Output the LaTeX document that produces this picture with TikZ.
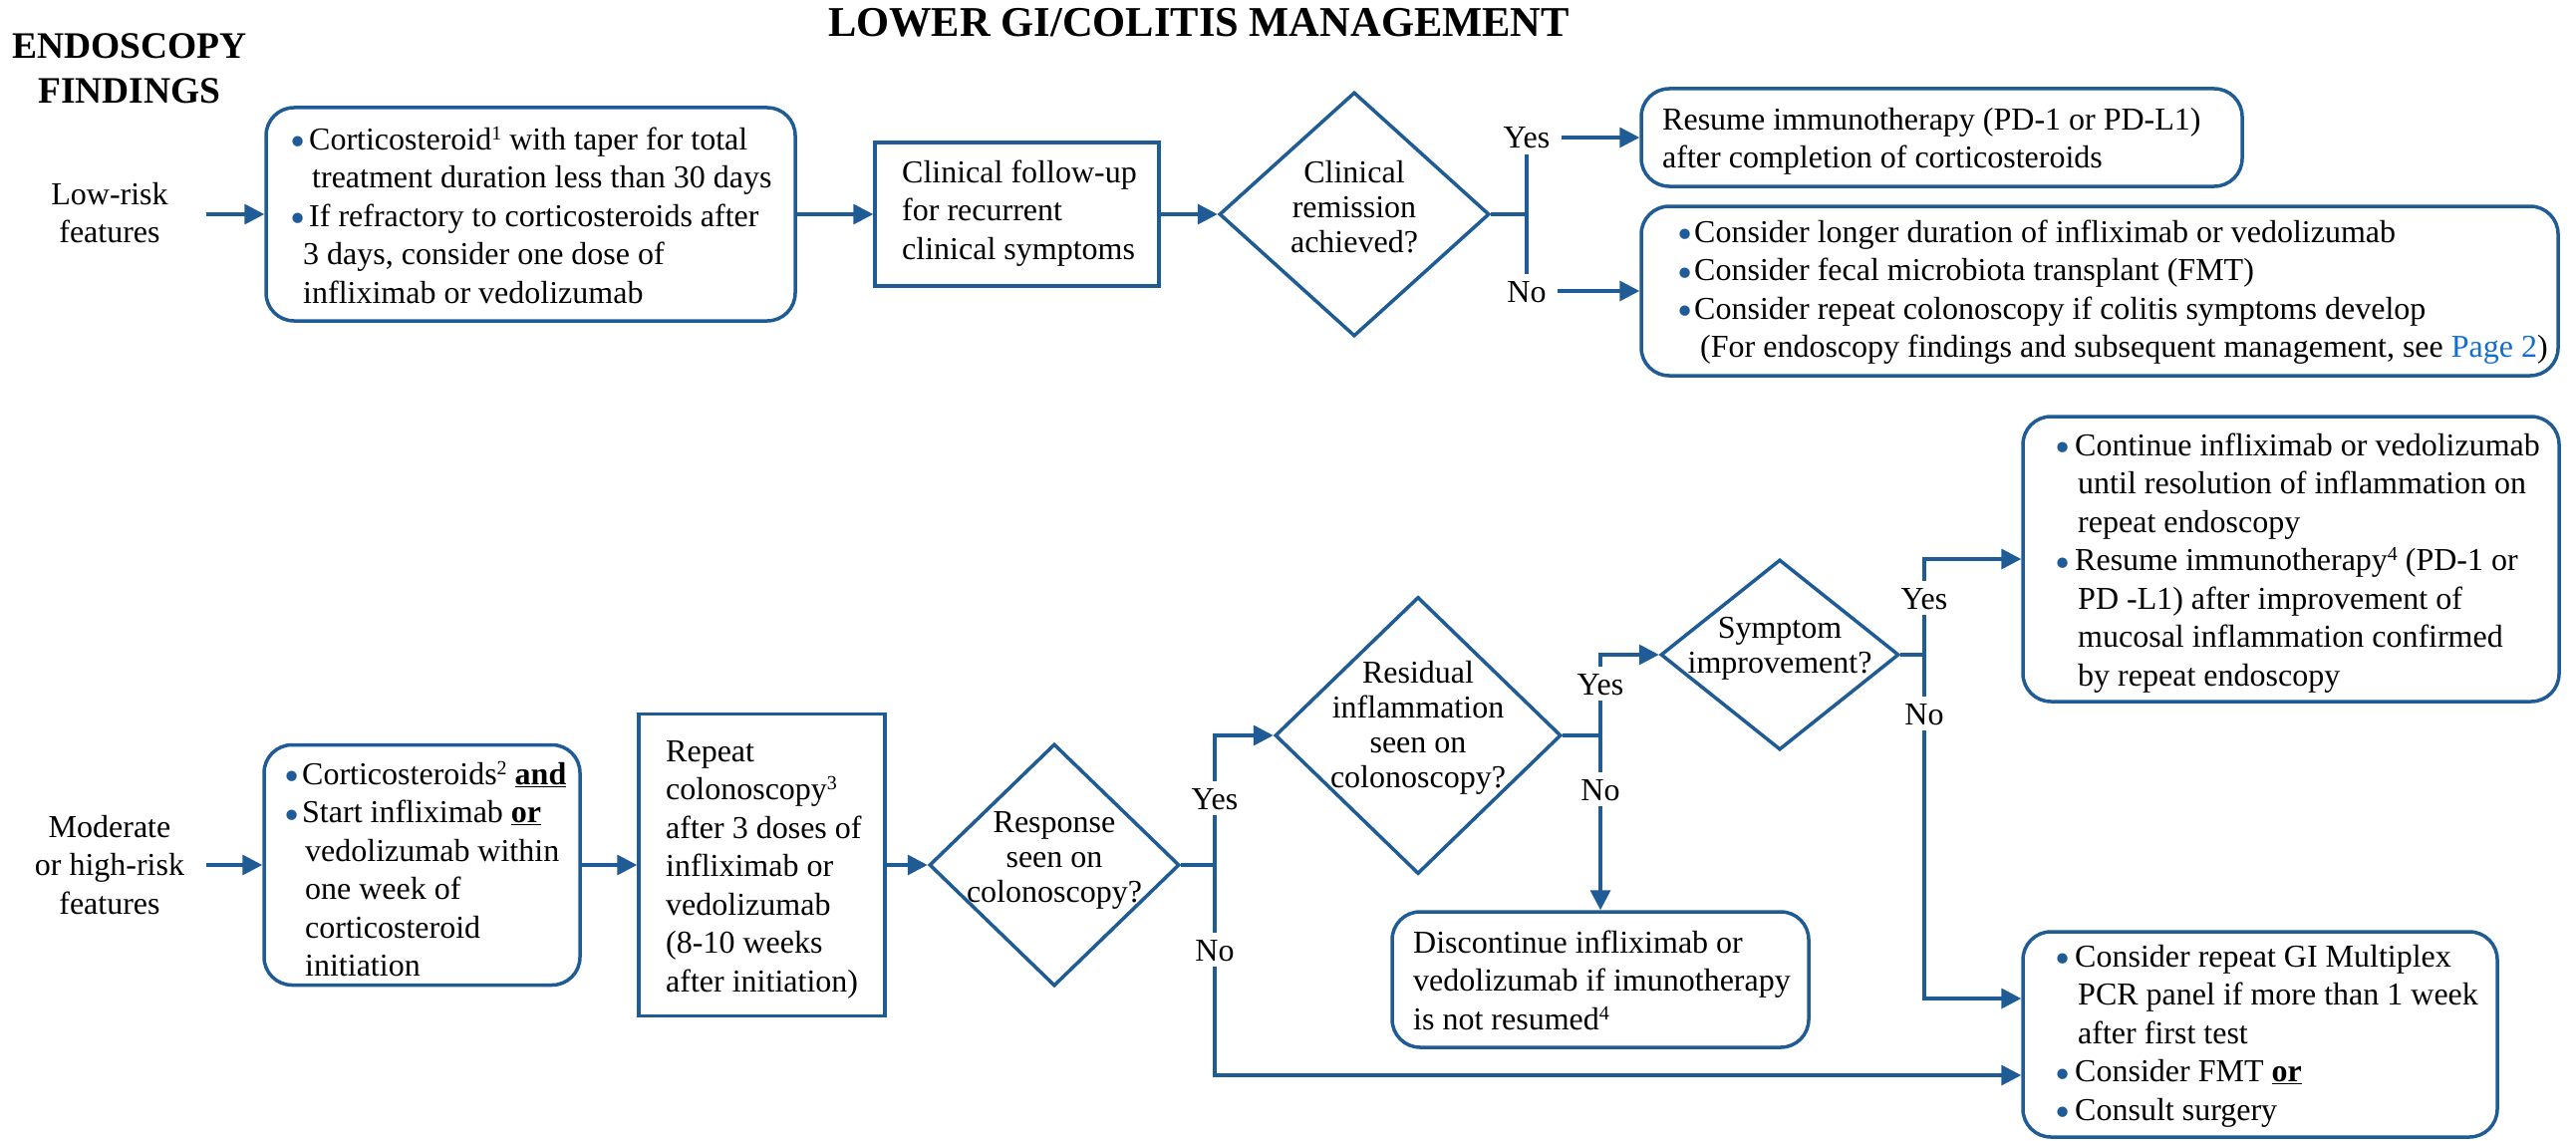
\documentclass[tikz,border=0pt]{standalone}
\usepackage{graphicx}
\usepackage{fontspec}
\setmainfont{Liberation Serif}
\usetikzlibrary{shapes.geometric,arrows.meta}
\definecolor{lblue}{RGB}{31,91,148}
\definecolor{linkblue}{RGB}{20,110,205}
\newcommand\body{\fontsize{32}{38.5}\selectfont}
\newcommand\diab{\fontsize{32}{35}\selectfont}
\newcommand\st{\rule{0pt}{27pt}}
\newcommand\bul[1][14pt]{\makebox[#1][l]{\raisebox{-6.5pt}{\scalebox{1.35}{\textcolor{lblue}{•}}}}}
\newcommand\sups[1]{\raisebox{10pt}{\fontsize{20}{20}\selectfont #1}}
\newcommand\ub[1]{\underline{\textbf{#1}}}
\begin{document}
\begin{tikzpicture}[x=1pt,y=-1pt,
  ln/.style={draw=lblue, line width=3.5pt},
  arr/.style={ln, -{Triangle[length=20pt,width=20pt]}},
  rbox/.style={draw=lblue, line width=3.5pt, rounded corners=28pt, inner sep=0pt, rectangle},
  sbox/.style={draw=lblue, line width=3.5pt, inner sep=0pt, rectangle},
  dia/.style={draw=lblue, line width=3.5pt, diamond, inner sep=0pt},
  txt/.style={inner sep=0pt, anchor=north west, align=left, font=\body},
  ctxt/.style={inner sep=0pt, anchor=north, align=center, font=\diab},
  lbl/.style={inner sep=0pt, anchor=north, align=center, font=\body},
  yn/.style={inner xsep=11pt, inner ysep=6pt, font=\body, text height=22pt, text depth=0pt}
]
\fill[white] (0,0) rectangle (2585,1145);
\useasboundingbox (0,0) rectangle (2585,1145);

% headings
\node[anchor=base, inner sep=0pt, font=\fontsize{42.5}{50}\selectfont\bfseries] (title) at (1203,37) {LOWER GI/COLITIS MANAGEMENT};
\node[anchor=north, inner sep=0pt, align=center, font=\fontsize{37.5}{45}\selectfont\bfseries] (endo) at (130,28) {\rule{0pt}{30pt}ENDOSCOPY\\FINDINGS};

% ---------- top row ----------
\node[lbl] (low) at (110,178) {\st Low-risk\\features};
\node[rbox, minimum width=531pt, minimum height=214pt] (box1) at (532.5,215) {};
\node[txt] (t1) at (291,123) {\st\bul[19pt]Corticosteroid\sups{1} with taper for total\\
\hspace*{22pt}treatment duration less than 30 days\\
\bul[19pt]If refractory to corticosteroids after\\
\hspace*{13pt}3 days, consider one dose of\\
\hspace*{13pt}infliximab or vedolizumab};

\node[sbox, minimum width=285pt, minimum height=144pt] (box2) at (1020.5,215) {};
\node[txt] (t2) at (905,156) {\st Clinical follow-up\\for recurrent\\clinical symptoms};

\node[dia, minimum width=271pt, minimum height=245pt] (d1) at (1359,215) {};
\node[ctxt] (d1t) at (1359,156) {\st Clinical\\remission\\achieved?};

\node[yn] (y1) at (1532,138) {Yes};
\node[yn] (n1) at (1532,292) {No};

\node[rbox, minimum width=603pt, minimum height=98pt] (box3) at (1948.5,138) {};
\node[txt] (t3) at (1668,103) {\st Resume immunotherapy (PD-1 or PD-L1)\\after completion of corticosteroids};

\node[rbox, minimum width=920pt, minimum height=170pt] (box4) at (2107,292) {};
\node[txt] (t4) at (1683,216) {\st\bul[17pt]Consider longer duration of infliximab or vedolizumab\\
\bul[17pt]Consider fecal microbiota transplant (FMT)\\
\bul[17pt]Consider repeat colonoscopy if colitis symptoms develop\\
\hspace*{23pt}(For endoscopy findings and subsequent management, see \textcolor{linkblue}{Page 2})};

\coordinate (s1) at (207,215);
\draw[arr] (s1) -- (box1.west);
\draw[arr] (box1.east) -- (box2.west);
\draw[arr] (box2.east) -- (d1.west);
\draw[ln] (d1.east) -- (d1.east -| y1.south);
\draw[ln] (y1.south) -- (n1.north);
\draw[arr] (y1.east) -- (y1.east -| box3.west);
\draw[arr] (n1.east) -- (n1.east -| box4.west);

% ---------- bottom row ----------
\node[lbl] (mod) at (110,813) {\st Moderate\\or high-risk\\features};
\node[rbox, minimum width=317pt, minimum height=241pt] (box5) at (423.5,868) {};
\node[txt] (t5) at (285,760) {\st\bul[18pt]Corticosteroids\sups{2} \ub{and}\\
\bul[18pt]Start infliximab \ub{or}\\
\hspace*{21pt}vedolizumab within\\
\hspace*{21pt}one week of\\
\hspace*{21pt}corticosteroid\\
\hspace*{21pt}initiation};

\node[sbox, minimum width=247pt, minimum height=303pt] (box6) at (764.5,868) {};
\node[txt] (t6) at (668,737) {\st Repeat\\colonoscopy\sups{3}\\after 3 doses of\\infliximab or\\vedolizumab\\(8-10 weeks\\after initiation)};

\node[dia, minimum width=251pt, minimum height=243pt] (d2) at (1058,868) {};
\node[ctxt] (d2t) at (1058,808) {\st Response\\seen on\\colonoscopy?};

\node[yn] (y2) at (1219,801) {Yes};
\node[yn] (n2) at (1219,953) {No};

\node[dia, minimum width=287pt, minimum height=278pt] (d3) at (1423,738) {};
\node[ctxt] (d3t) at (1423,658) {\st Residual\\inflammation\\seen on\\colonoscopy?};

\node[yn] (y3) at (1606,686) {Yes};
\node[yn] (n3) at (1606,792) {No};

\node[rbox, minimum width=418pt, minimum height=136pt] (box9) at (1606,983) {};
\node[txt] (t9) at (1418,929) {\st Discontinue infliximab or\\vedolizumab if imunotherapy\\is not resumed\sups{4}};

\node[dia, minimum width=239pt, minimum height=191pt] (ds) at (1786,657) {};
\node[ctxt] (dst) at (1786,613) {\st Symptom\\improvement?};

\node[yn] (y4) at (1931,600) {Yes};
\node[yn] (n4) at (1931,716) {No};

\node[rbox, minimum width=538pt, minimum height=286pt] (box7) at (2299,561) {};
\node[txt] (t7) at (2062,430) {\st\bul[20pt]Continue infliximab or vedolizumab\\
\hspace*{23pt}until resolution of inflammation on\\
\hspace*{23pt}repeat endoscopy\\
\bul[20pt]Resume immunotherapy\sups{4} (PD-1 or\\
\hspace*{23pt}PD -L1) after improvement of\\
\hspace*{23pt}mucosal inflammation confirmed\\
\hspace*{23pt}by repeat endoscopy};

\node[rbox, minimum width=476pt, minimum height=206pt] (box8) at (2268,1038) {};
\node[txt] (t8) at (2062,943) {\st\bul[20pt]Consider repeat GI Multiplex\\
\hspace*{23pt}PCR panel if more than 1 week\\
\hspace*{23pt}after first test\\
\bul[20pt]Consider FMT \ub{or}\\
\bul[20pt]Consult surgery};

\coordinate (s2) at (207,868);
\draw[arr] (s2) -- (box5.west);
\draw[arr] (box5.east) -- (box6.west);
\draw[arr] (box6.east) -- (d2.west);
\draw[ln] (d2.east) -- (d2.east -| y2.south);
\draw[ln] (y2.south) -- (n2.north);
\draw[arr] (y2.north) |- (d3.west);
\draw[arr] (n2.south) |- ([yshift=-41pt]box8.west);
\draw[ln] (d3.east) -- (d3.east -| y3.south);
\draw[ln] (y3.south) -- (n3.north);
\draw[arr] (y3.north) |- (ds.west);
\draw[arr] (n3.south) -- (box9.north);
\draw[ln] (ds.east) -- (ds.east -| y4.south);
\draw[ln] (y4.south) -- (n4.north);
\draw[arr] (y4.north) |- (box7.west);
\draw[arr] (n4.south) |- ([yshift=36pt]box8.west);
\end{tikzpicture}
\end{document}
